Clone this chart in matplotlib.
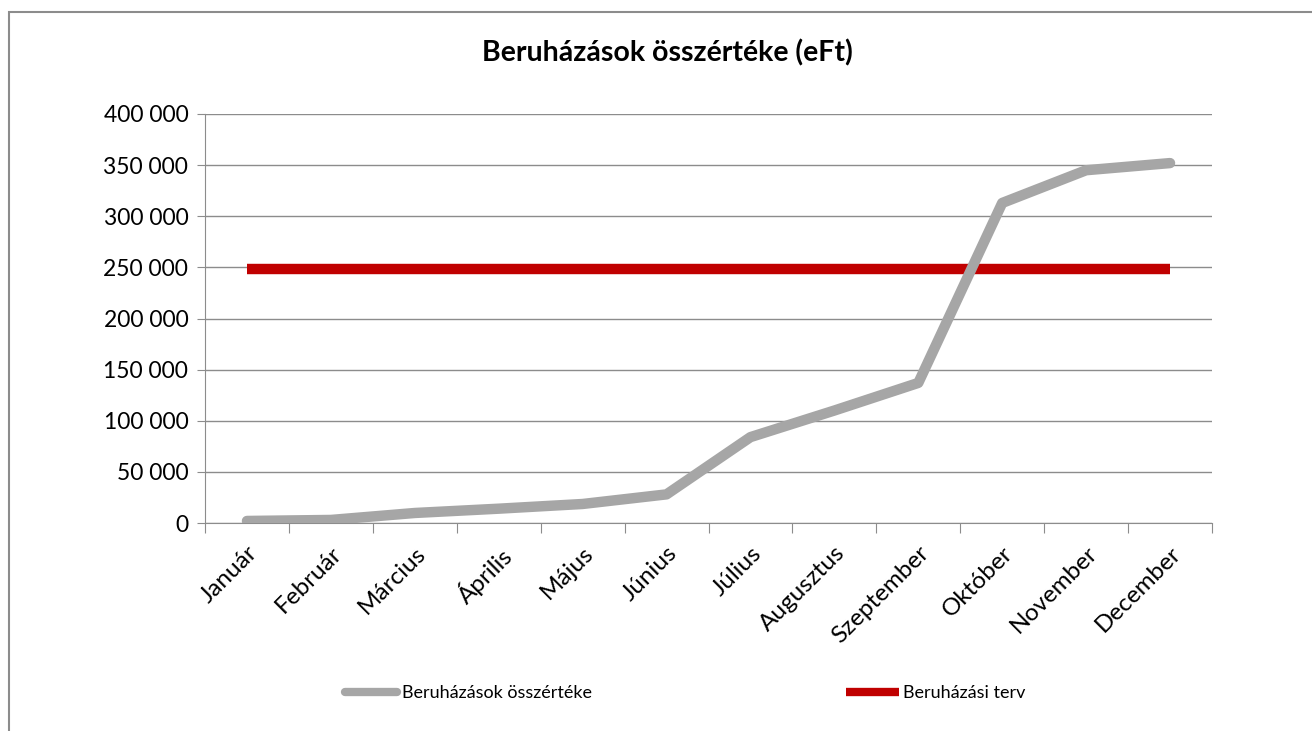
import matplotlib.pyplot as plt
import matplotlib.ticker as mticker
from matplotlib.patches import Rectangle

plt.rcParams['font.family'] = ['Lato', 'DejaVu Sans']

months = ['Január', 'Február', 'Március', 'Április', 'Május', 'Június',
          'Július', 'Augusztus', 'Szeptember', 'Október', 'November', 'December']
osszertek = [2000, 3000, 9800, 14000, 18600, 28000,
             84000, 110000, 137000, 313000, 345000, 352000]
terv = [248000] * 12

fig = plt.figure(figsize=(13.12, 7.31), dpi=100)
ax = fig.add_axes([205 / 1312, 1 - 523 / 731, 1007 / 1312, 409 / 731])

# outer chart border (cut at right/bottom like the screenshot)
fig.patches.append(Rectangle((8.5 / 1312, -0.05), 1.2, 1 - 11.5 / 731 + 0.05,
                             transform=fig.transFigure, fill=False,
                             edgecolor='#8c8c8c', linewidth=1.5))

x = list(range(len(months)))
ax.plot(x, terv, color='#C00000', linewidth=7.5, solid_capstyle='butt',
        label='Beruházási terv', zorder=3)
ax.plot(x, osszertek, color='#A6A6A6', linewidth=7.5, solid_capstyle='round',
        solid_joinstyle='round', label='Beruházások összértéke', zorder=4)

ax.set_xlim(-0.5, len(months) - 0.5)
ax.set_ylim(0, 400000)
ax.yaxis.set_major_locator(mticker.MultipleLocator(50000))
ax.yaxis.set_major_formatter(mticker.FuncFormatter(lambda v, p: f'{int(v):,}'.replace(',', ' ')))
ax.grid(axis='y', color='#8c8c8c', linewidth=1)
ax.set_axisbelow(True)

ax.set_xticks([i + 0.5 for i in range(-1, len(months))], minor=False)
ax.set_xticklabels([])
ax.set_xticks(x, minor=True)
ax.set_xticklabels(months, minor=True, rotation=45, ha='right',
                   rotation_mode='anchor', fontsize=17.5)
ax.tick_params(axis='x', which='minor', length=0, pad=14)
ax.tick_params(axis='x', which='major', length=7, color='#8c8c8c', direction='out')
ax.tick_params(axis='y', length=6, color='#8c8c8c', labelsize=16.5, pad=6)

for s in ['top', 'right']:
    ax.spines[s].set_visible(False)
for s in ['left', 'bottom']:
    ax.spines[s].set_color('#8c8c8c')

fig.text(667 / 1312, 1 - 53 / 731, 'Beruházások összértéke (eFt)',
         ha='center', va='center', fontsize=20.5, fontweight='bold')

h, l = ax.get_legend_handles_labels()
leg = fig.legend(h[::-1], l[::-1], loc='center left',
                 bbox_to_anchor=(336 / 1312, 1 - 693 / 731),
                 ncol=2, frameon=False, fontsize=13, handlelength=2.9,
                 handletextpad=0.25, columnspacing=14.1, borderpad=0)
for line in leg.get_lines():
    line.set_linewidth(6)

fig.savefig('out.png', dpi=100)
